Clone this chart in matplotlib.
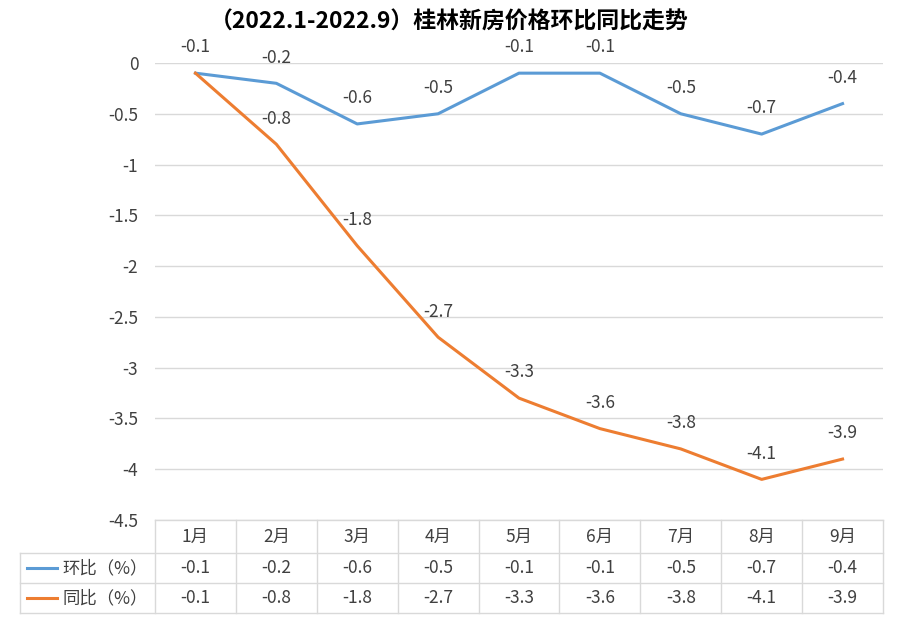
import matplotlib
matplotlib.use("Agg")
import matplotlib.pyplot as plt
from matplotlib.lines import Line2D

plt.rcParams['font.family'] = ['Noto Sans CJK SC', 'DejaVu Sans']

months = ["1月", "2月", "3月", "4月", "5月", "6月", "7月", "8月", "9月"]
mom = [-0.1, -0.2, -0.6, -0.5, -0.1, -0.1, -0.5, -0.7, -0.4]
yoy = [-0.1, -0.8, -1.8, -2.7, -3.3, -3.6, -3.8, -4.1, -3.9]
names = ["环比（%）", "同比（%）"]
title = "（2022.1-2022.9）桂林新房价格环比同比走势"

W, H = 899, 629
blue, orange = "#5B9BD5", "#ED7D31"
tc = "#404040"
gc = "#D9D9D9"

fig = plt.figure(figsize=(W/100, H/100), dpi=100)
L, R, T, B = 155, 883, 63, 520
ax = fig.add_axes([L/W, 1-B/H, (R-L)/W, (B-T)/H])
x = list(range(len(months)))
ax.plot(x, mom, color=blue, lw=2.2, clip_on=False)
ax.plot(x, yoy, color=orange, lw=2.2, clip_on=False)
for i in x:
    ax.annotate(f"{mom[i]:g}", (i, mom[i]), xytext=(0, 12), textcoords="offset points",
                ha="center", va="bottom", fontsize=12.5, color=tc)
    if i > 0:
        ax.annotate(f"{yoy[i]:g}", (i, yoy[i]), xytext=(0, 12), textcoords="offset points",
                    ha="center", va="bottom", fontsize=12.5, color=tc)
ax.set_xlim(-0.5, 8.5)
ax.set_ylim(-4.5, 0)
ax.set_yticks([0, -0.5, -1, -1.5, -2, -2.5, -3, -3.5, -4, -4.5])
ax.set_yticklabels(["0", "-0.5", "-1", "-1.5", "-2", "-2.5", "-3", "-3.5", "-4", "-4.5"])
ax.tick_params(axis="y", length=0, labelsize=12.5, labelcolor=tc, pad=12)
ax.set_xticks([])
ax.grid(axis="y", color=gc, lw=1)
for s in ax.spines.values():
    s.set_visible(False)
ax.set_axisbelow(True)

fig.text(0.5, 1-22/H, title, ha="center", va="center", fontsize=16.5, fontweight="bold", color="#000000")

# data table
def fx(px): return px/W
def fy(py): return 1-py/H
colw = (R-L)/9
rows_y = [520, 553, 583, 613]
for yy in rows_y:
    x0 = L if yy == 520 else 20
    fig.add_artist(Line2D([fx(x0), fx(R)], [fy(yy), fy(yy)], color=gc, lw=1))
for k in range(10):
    xx = L + k*colw
    fig.add_artist(Line2D([fx(xx), fx(xx)], [fy(520), fy(613)], color=gc, lw=1))
fig.add_artist(Line2D([fx(20), fx(20)], [fy(553), fy(613)], color=gc, lw=1))
for i, m in enumerate(months):
    cx = L + (i+0.5)*colw
    fig.text(fx(cx), fy(537), m, ha="center", va="center", fontsize=12.5, color=tc)
    fig.text(fx(cx), fy(568), f"{mom[i]:g}", ha="center", va="center", fontsize=12.5, color=tc)
    fig.text(fx(cx), fy(598), f"{yoy[i]:g}", ha="center", va="center", fontsize=12.5, color=tc)
for yy, nm, c in [(568, names[0], blue), (598, names[1], orange)]:
    fig.add_artist(Line2D([fx(27), fx(57)], [fy(yy), fy(yy)], color=c, lw=2.2))
    fig.text(fx(62), fy(yy), nm, ha="left", va="center", fontsize=12.5, color=tc)

fig.savefig("out.png", dpi=100, facecolor="white")
